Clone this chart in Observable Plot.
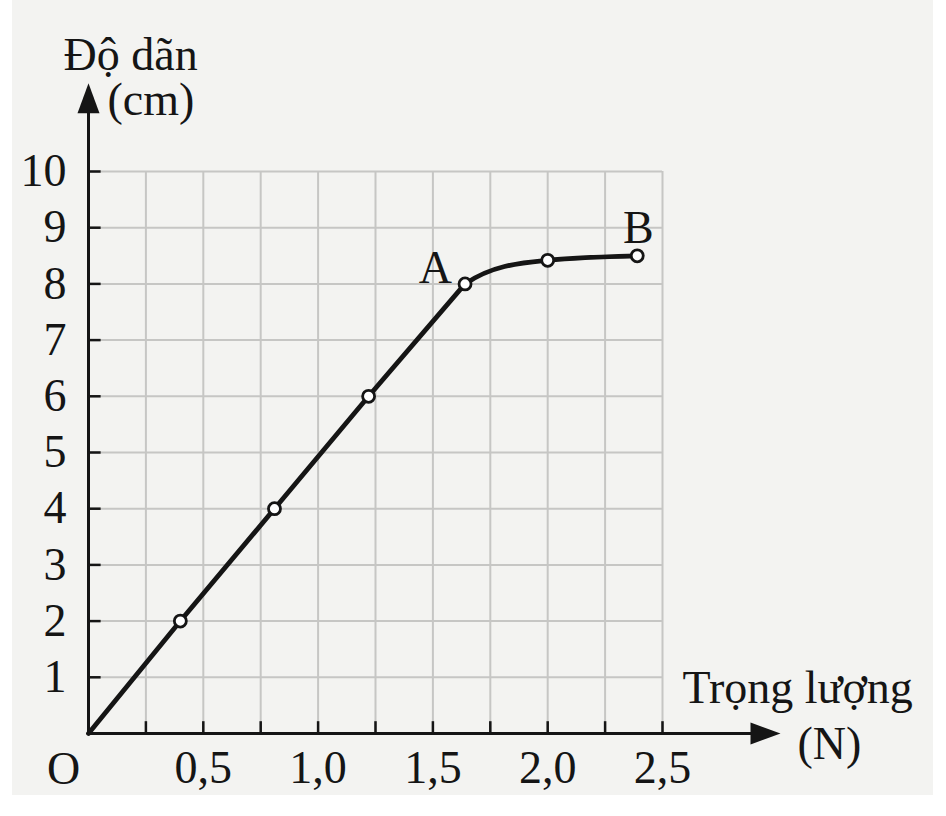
<!DOCTYPE html>
<html>
<head>
<meta charset="utf-8">
<script src="https://cdn.jsdelivr.net/npm/d3@7"></script>
<script src="https://cdn.jsdelivr.net/npm/@observablehq/plot@0.6"></script>
<style>
  html, body { margin: 0; padding: 0; background: #ffffff; overflow: hidden; }
  #paper { position: absolute; left: 12px; top: 0; width: 921px; height: 795px; background: #f3f3f1; }
  #chart { position: absolute; left: 0; top: 0; }
</style>
</head>
<body>
<div id="paper"></div>
<div id="chart"></div>
<script>
// ---- data ----
const weightN     = [0, 0.4, 0.81, 1.22, 1.64, 2.0, 2.39];   // Trọng lượng (N)
const extensionCm = [0, 2, 4, 6, 8, 8.42, 8.5];              // Độ dãn (cm)
const xGrid = [0.25, 0.5, 0.75, 1.0, 1.25, 1.5, 1.75, 2.0, 2.25, 2.5];
const yGrid = [1, 2, 3, 4, 5, 6, 7, 8, 9, 10];
const xTickLabels = [0.5, 1.0, 1.5, 2.0, 2.5];
const yTickLabels = [1, 2, 3, 4, 5, 6, 7, 8, 9, 10];
const yTitle = ["Độ dãn", "(cm)"];
const xTitle = ["Trọng lượng", "(N)"];
const originLabel = ["O"];
const pointNames = ["A", "B"];
const xTip = 3.014;   // end of x-axis arrow (data units)
const yTip = 11.57;   // end of y-axis arrow (data units)

// ---- derived tables ----
const pts = weightN.map((w, i) => ({w, e: extensionCm[i]}));
const linearPart = pts.slice(0, 5);     // O .. A
const curvedPart = pts.slice(4);        // A .. B
const markers = pts.slice(1);
const named = [{name: pointNames[0], ...pts[4]}, {name: pointNames[1], ...pts[6]}];

const FONT = "'Liberation Serif', 'Times New Roman', serif";
const FS = 46;
const INK = "#151515";

// Hermite curve: steep departure at first point, monotone tangents elsewhere
function curveKnee(context) {
  let xs = [], ys = [];
  const sign = v => (v < 0 ? -1 : v > 0 ? 1 : 0);
  return {
    areaStart() {}, areaEnd() {},
    lineStart() { xs = []; ys = []; },
    point(x, y) { xs.push(+x); ys.push(+y); },
    lineEnd() {
      const n = xs.length;
      if (!n) return;
      context.moveTo(xs[0], ys[0]);
      if (n === 1) return;
      const s = [];
      for (let i = 0; i < n - 1; i++) s.push((ys[i + 1] - ys[i]) / (xs[i + 1] - xs[i]));
      const m = new Array(n);
      for (let i = 1; i < n - 1; i++) {
        const h0 = xs[i] - xs[i - 1], h1 = xs[i + 1] - xs[i];
        const p = (s[i - 1] * h1 + s[i] * h0) / (h0 + h1);
        m[i] = (sign(s[i - 1]) + sign(s[i])) * Math.min(Math.abs(s[i - 1]), Math.abs(s[i]), 0.5 * Math.abs(p));
      }
      m[0] = 2.4 * s[0];
      m[n - 1] = n > 2 ? (3 * s[n - 2] - m[n - 2]) / 2 : s[0];
      for (let i = 0; i < n - 1; i++) {
        const h = (xs[i + 1] - xs[i]) / 3;
        context.bezierCurveTo(xs[i] + h, ys[i] + h * m[i], xs[i + 1] - h, ys[i + 1] - h * m[i + 1], xs[i + 1], ys[i + 1]);
      }
    }
  };
}

const arrowHead = {
  draw(ctx) {
    const L = 30, W = 22;
    ctx.moveTo(0, 0);
    ctx.lineTo(W / 2, L);
    ctx.lineTo(-W / 2, L);
    ctx.closePath();
  }
};

const txt = {fontSize: FS, fontFamily: FONT, fill: INK, lineAnchor: "bottom"};

const chart = Plot.plot({
  width: 946,
  height: 816,
  marginLeft: 88,
  marginRight: 284,
  marginTop: 171,
  marginBottom: 83,
  style: {background: "transparent", fontFamily: FONT, fontSize: FS + "px", color: INK},
  x: {domain: [0, 2.5]},
  y: {domain: [0, 10]},
  marks: [
    // grid
    Plot.ruleX(xGrid, {x: d => d, y1: 0, y2: 10, stroke: "#c6c6c4", strokeWidth: 2}),
    Plot.ruleY(yGrid, {y: d => d, x1: 0, x2: 2.5, stroke: "#c6c6c4", strokeWidth: 2}),
    // axes lines
    Plot.ruleX([0], {y1: 0, y2: yTip - 0.3, stroke: INK, strokeWidth: 3}),
    Plot.ruleY([0], {x1: 0, x2: xTip - 0.05, stroke: INK, strokeWidth: 3}),
    Plot.dot([yTip], {x: 0, y: d => d, symbol: arrowHead, fill: INK, stroke: "none"}),
    Plot.dot([xTip], {x: d => d, y: 0, symbol: arrowHead, rotate: 90, fill: INK, stroke: "none"}),
    // axis ticks
    Plot.ruleX(xGrid, {x: d => d, y1: 0, y2: 0.21, stroke: INK, strokeWidth: 2.5}),
    Plot.ruleY(yGrid, {y: d => d, x1: 0, x2: 0.055, stroke: INK, strokeWidth: 2.5}),
    // tick labels
    Plot.axisX(xTickLabels, {tickSize: 0, tickPadding: 17, label: null,
      tickFormat: d => d.toFixed(1).replace(".", ","), fontSize: FS, fontFamily: FONT, fill: INK}),
    Plot.axisY(yTickLabels, {tickSize: 0, tickPadding: 22, label: null,
      tickFormat: d => String(d), fontSize: FS, fontFamily: FONT, fill: INK}),
    // data line
    Plot.line(linearPart, {x: "w", y: "e", stroke: INK, strokeWidth: 4.8, strokeLinejoin: "round", strokeLinecap: "round"}),
    Plot.line(curvedPart, {x: "w", y: "e", curve: curveKnee, stroke: INK, strokeWidth: 4.8, strokeLinecap: "round"}),
    Plot.dot(markers, {x: "w", y: "e", r: 6, fill: "white", stroke: INK, strokeWidth: 2.8}),
    // point names
    Plot.text(named.slice(0, 1), {x: "w", y: "e", text: "name", textAnchor: "end", dx: -13, dy: -1, ...txt}),
    Plot.text(named.slice(1), {x: "w", y: "e", text: "name", textAnchor: "middle", dx: 1, dy: -13, ...txt}),
    // origin
    Plot.text(originLabel, {x: 0, y: 0, text: d => d, textAnchor: "middle", dx: -25, dy: 50, ...txt}),
    // y title
    Plot.text([yTitle[0]], {x: 0, y: yTip, text: d => d, textAnchor: "start", dx: -25, dy: -13, ...txt}),
    Plot.text([yTitle[1]], {x: 0, y: yTip, text: d => d, textAnchor: "start", dx: 19, dy: 32, ...txt}),
    // x title
    Plot.text([xTitle[0]], {x: xTip, y: 0, text: d => d, textAnchor: "start", dx: -98, dy: -31, ...txt}),
    Plot.text([xTitle[1]], {x: xTip, y: 0, text: d => d, textAnchor: "start", dx: 17, dy: 25, ...txt})
  ]
});

document.getElementById("chart").appendChild(chart);
</script>
</body>
</html>
